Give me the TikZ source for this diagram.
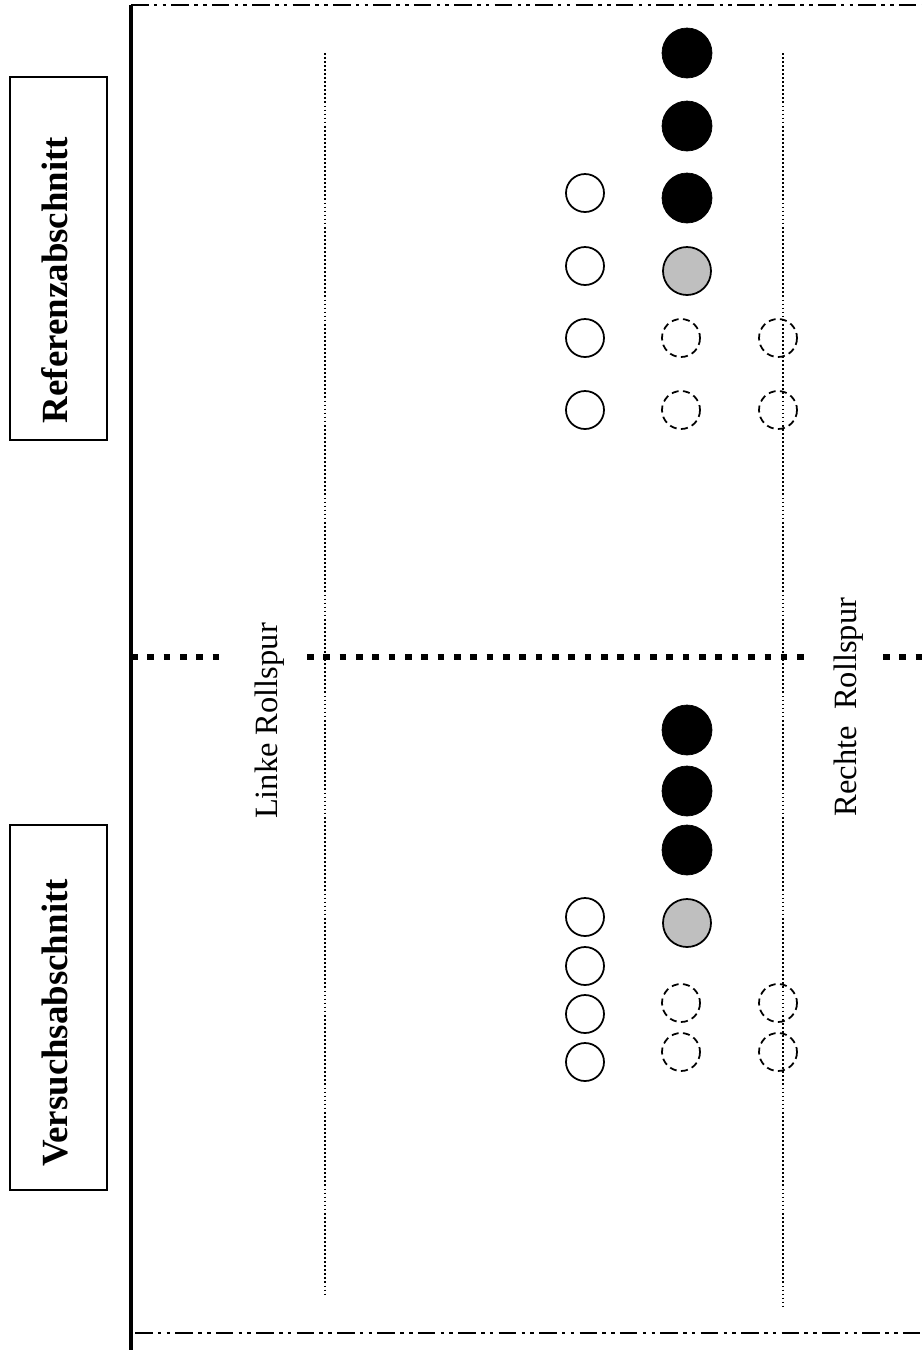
\documentclass[tikz,border=0pt]{standalone}
\usepackage{fontspec}
\setmainfont{Liberation Serif}

\begin{document}
\begin{tikzpicture}[x=0.02cm,y=-0.02cm,
  rand/.style={line width=1pt,dash pattern=on 10pt off 3pt on 2pt off 3pt on 2pt off 3pt},
  spurlinie/.style={line width=0.8pt,dash pattern=on 1pt off 1.3pt},
  mitte/.style={line width=3.4pt,dash pattern=on 3.7pt off 5.6pt},
  rad/.style={line width=1pt},
  leer/.style={line width=1pt,dash pattern=on 4pt off 2.5pt},
  titel/.style={rotate=90,font=\fontsize{21}{25}\selectfont\bfseries},
  spurtext/.style={rotate=90,font=\fontsize{18.5}{22}\selectfont}]
\useasboundingbox (0,0) rectangle (922,1350);

\draw [rand] (131,5) -- (922,5);
\draw [rand] (135,1333) -- (922,1333);
\draw [line width=2pt] (131,5) -- (131,1350);

\draw [line width=1pt] (10,77) rectangle (107,440);
\draw (55,280) node[titel] (ref) {Referenzabschnitt};
\draw [line width=1pt] (10,825) rectangle (107,1190);
\draw (55,1023) node[titel] (versuch) {Versuchsabschnitt};

\draw [spurlinie] (325,53) -- (325,1295);
\draw [spurlinie] (783,53) -- (783,1307);
\draw (270,721) node[spurtext] (links) {Linke Rollspur};
\draw (849,707) node[spurtext] (rechts) {Rechte~ Rollspur};

\draw [mitte] (131,657) -- (221,657);
\draw [mitte] (307,657) -- (806,657);
\draw [mitte] (883,657) -- (922,657);

% Referenzabschnitt
\draw [rad] (585,193) circle[radius=19];
\draw [rad] (585,266) circle[radius=19];
\draw [rad] (585,338) circle[radius=19];
\draw [rad] (585,410) circle[radius=19];
\draw [fill] (687,53) circle[radius=25];
\draw [fill] (687,126) circle[radius=25];
\draw [fill] (687,198) circle[radius=25];
\draw [rad,fill=black!25] (687,271) circle[radius=24];
\draw [leer] (681,338) circle[radius=19];
\draw [leer] (681,410) circle[radius=19];
\draw [leer] (778,338) circle[radius=19];
\draw [leer] (778,410) circle[radius=19];

% Versuchsabschnitt
\draw [fill] (687,730) circle[radius=25];
\draw [fill] (687,791) circle[radius=25];
\draw [fill] (687,850) circle[radius=25];
\draw [rad,fill=black!25] (687,923) circle[radius=24];
\draw [rad] (585,917) circle[radius=19];
\draw [rad] (585,966) circle[radius=19];
\draw [rad] (585,1014) circle[radius=19];
\draw [rad] (585,1062) circle[radius=19];
\draw [leer] (681,1003) circle[radius=19];
\draw [leer] (681,1052) circle[radius=19];
\draw [leer] (778,1003) circle[radius=19];
\draw [leer] (778,1052) circle[radius=19];
\end{tikzpicture}
\end{document}
